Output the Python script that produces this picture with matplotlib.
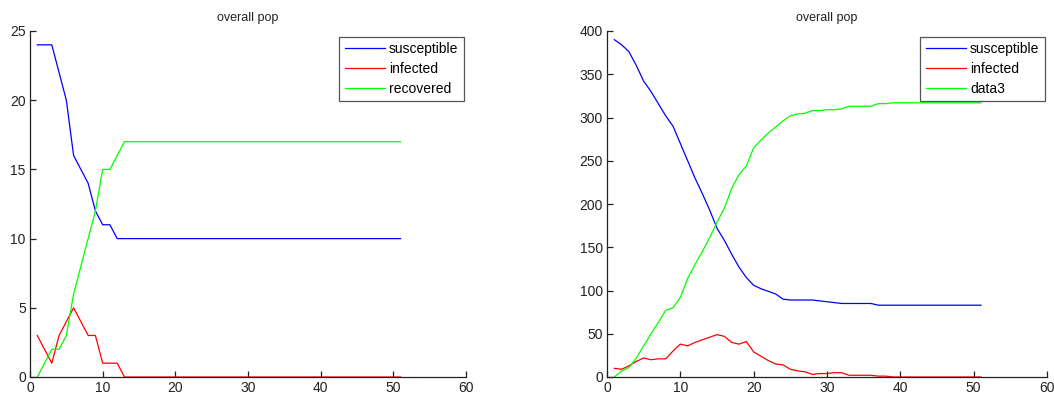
import matplotlib
matplotlib.use("Agg")
import matplotlib.pyplot as plt

plt.rcParams['font.family'] = ['Liberation Sans', 'DejaVu Sans']

# small run: 27 people, integer steps
t_small = list(range(1, 52))
s_small = [24, 24, 24, 22, 20, 16, 15, 14, 12, 11, 11, 10] + [10] * 39
i_small = [3, 2, 1, 3, 4, 5, 4, 3, 3, 1, 1, 1] + [0] * 39
r_small = [0, 1, 2, 2, 3, 6, 8, 10, 12, 15, 15, 16] + [17] * 39

# large run: 400 people
t_big = list(range(1, 52))
s_big = [390, 384, 376, 360, 342, 330, 316, 302, 290, 270,
         250, 230, 212, 193, 172, 158, 142, 127, 115, 106,
         102, 99, 96, 90, 89, 89, 89, 89, 88, 87,
         86, 85, 85, 85, 85, 85, 83, 83] + [83] * 13
i_big = [10, 9, 13, 18, 22, 20, 21, 21, 30, 38,
         36, 40, 43, 46, 49, 47, 40, 38, 41, 29,
         24, 19, 15, 14, 9, 7, 6, 3, 4, 4,
         5, 5, 2, 2, 2, 2, 1, 1] + [0] * 13
r_big = [0, 7, 11, 22, 36, 50, 63, 77, 80, 92,
         114, 130, 145, 161, 179, 195, 218, 234, 244, 265,
         274, 282, 289, 296, 302, 304, 305, 308, 308, 309,
         309, 310, 313, 313, 313, 313, 316, 316] + [317] * 13

fig = plt.figure(figsize=(10.54, 3.96), dpi=100)
ax1 = fig.add_axes([30 / 1054, 19 / 396, 436 / 1054, 346 / 396])
ax2 = fig.add_axes([607 / 1054, 19 / 396, 440 / 1054, 346 / 396])


def style(ax, ymax, ystep, labels):
    ax.set_xlim(0, 60)
    ax.set_ylim(0, ymax)
    ax.set_xticks(range(0, 61, 10))
    ax.set_yticks(range(0, ymax + 1, ystep))
    for side in ('top', 'right'):
        ax.spines[side].set_visible(False)
    for side in ('left', 'bottom'):
        ax.spines[side].set_linewidth(0.9)
        ax.spines[side].set_color('#222222')
    ax.tick_params(direction='in', length=4, width=0.9, labelsize=10,
                   colors='#222222', pad=3)
    ax.set_title('overall pop', fontsize=9, pad=7, color='#222222')
    leg = ax.legend(labels, loc='upper right', bbox_to_anchor=(0.995, 0.983),
                    fontsize=10, fancybox=False, framealpha=1,
                    edgecolor='#555555', handlelength=2.9, handletextpad=0.3,
                    labelspacing=0.42, borderpad=0.38, borderaxespad=0)
    leg.get_frame().set_linewidth(0.9)


lw = 0.9
ax1.plot(t_small, s_small, color='#0000ff', lw=lw)
ax1.plot(t_small, i_small, color='#ff0000', lw=lw)
ax1.plot(t_small, r_small, color='#00ff00', lw=lw)
style(ax1, 25, 5, ['susceptible', 'infected', 'recovered'])

ax2.plot(t_big, s_big, color='#0000ff', lw=lw)
ax2.plot(t_big, i_big, color='#ff0000', lw=lw)
ax2.plot(t_big, r_big, color='#00ff00', lw=lw)
style(ax2, 400, 50, ['susceptible', 'infected', 'data3'])

fig.savefig('out.png', dpi=100)
